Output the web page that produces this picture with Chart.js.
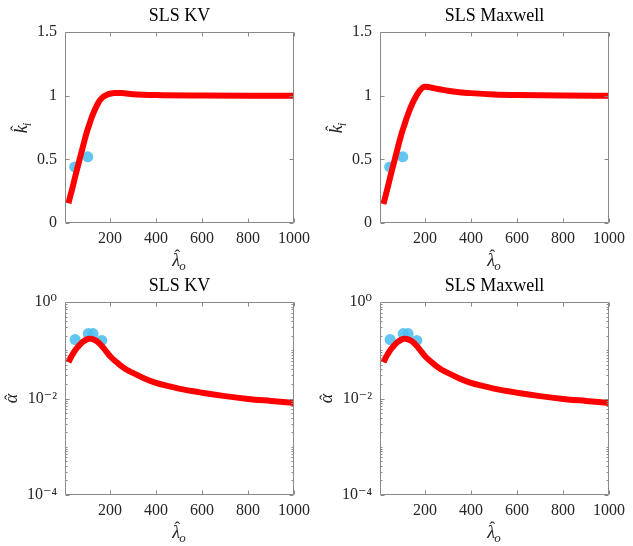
<!DOCTYPE html>
<html>
<head>
<meta charset="utf-8">
<script src="https://cdn.jsdelivr.net/npm/chart.js@4.4.0/dist/chart.umd.min.js"></script>
<style>
  body { margin: 0; background: #fff; }
  #wrap { position: relative; width: 633px; height: 546px; }
  canvas { position: absolute; }
</style>
</head>
<body>
<div id="wrap">
  <canvas id="kvK" width="316" height="270" style="left:0;top:0"></canvas>
  <canvas id="mxK" width="316" height="270" style="left:315px;top:0"></canvas>
  <canvas id="kvA" width="316" height="272" style="left:0;top:270px"></canvas>
  <canvas id="mxA" width="316" height="272" style="left:315px;top:270px"></canvas>
</div>
<script>
// tick values / labels
const lambdaTicks = [200, 400, 600, 800, 1000];
const kTicks = [0, 0.5, 1, 1.5];
const alphaTicks = [1e-4, 1e-2, 1];
const alphaTickLabels = ['10⁻⁴', '10⁻²', '10⁰'];

// red model curves
const lamKV_k = [20, 30, 40, 50, 60, 70, 80, 90, 100, 110, 120, 130, 140, 150, 160, 170, 180, 190, 200, 220, 250, 300, 400, 600, 800, 1000];
const kKV = [0.155, 0.225, 0.295, 0.37, 0.44, 0.51, 0.58, 0.65, 0.715, 0.77, 0.825, 0.87, 0.91, 0.945, 0.97, 0.99, 1.0, 1.01, 1.015, 1.02, 1.02, 1.012, 1.005, 1.001, 1.0, 1.0];

const lamMX_k = [20, 30, 40, 50, 60, 70, 80, 90, 100, 110, 120, 130, 140, 150, 160, 170, 180, 190, 200, 215, 230, 250, 270, 300, 350, 400, 500, 600, 800, 1000];
const kMX = [0.15, 0.22, 0.29, 0.365, 0.435, 0.505, 0.575, 0.645, 0.71, 0.765, 0.82, 0.87, 0.915, 0.955, 0.99, 1.02, 1.045, 1.063, 1.07, 1.068, 1.062, 1.055, 1.048, 1.038, 1.027, 1.02, 1.01, 1.005, 1.001, 1.0];

const lamAlpha = [20, 30, 40, 50, 60, 70, 80, 90, 100, 110, 120, 130, 140, 150, 160, 170, 180, 190, 200, 215, 230, 250, 275, 300, 350, 400, 450, 500, 600, 700, 800, 900, 1000];
const alphaKV = [0.0562, 0.0708, 0.0851, 0.1012, 0.1161, 0.1318, 0.1462, 0.1585, 0.1679, 0.1738, 0.1718, 0.166, 0.1585, 0.1445, 0.130, 0.115, 0.100, 0.087, 0.0759, 0.0646, 0.0562, 0.0468, 0.0389, 0.0339, 0.026, 0.0211, 0.0182, 0.016, 0.0132, 0.0112, 0.0098, 0.0089, 0.0081];
const alphaMX = [0.0562, 0.0708, 0.0851, 0.1012, 0.1161, 0.1318, 0.1462, 0.1585, 0.1679, 0.1738, 0.1718, 0.166, 0.1585, 0.1445, 0.130, 0.115, 0.100, 0.087, 0.0759, 0.0646, 0.0562, 0.0468, 0.0389, 0.0339, 0.026, 0.0211, 0.0182, 0.016, 0.0132, 0.0112, 0.0098, 0.0089, 0.0081];

// blue measured points
const lamMeasK = [47, 104];
const kMeas = [0.44, 0.52];
const lamMeasA = [49, 106, 127, 165];
const alphaMeas = [0.167, 0.222, 0.222, 0.16];

const SERIF = "'Liberation Serif', 'DejaVu Serif', serif";
Chart.defaults.font.family = SERIF;
Chart.defaults.color = '#262626';

// draws base glyph with a hat and optional subscript, centred on x
function mathLabel(ctx, base, sub, x, y, hatDy) {
  ctx.font = 'italic 18px ' + SERIF;
  const w1 = ctx.measureText(base).width;
  ctx.font = 'italic 13px ' + SERIF;
  const w2 = sub ? ctx.measureText(sub).width : 0;
  const x0 = x - (w1 + w2) / 2;
  ctx.textAlign = 'left';
  ctx.textBaseline = 'alphabetic';
  ctx.font = 'italic 18px ' + SERIF;
  ctx.fillText(base, x0, y);
  ctx.textAlign = 'center';
  ctx.font = '17px ' + SERIF;
  ctx.fillText('ˆ', x0 + w1 / 2 + 1, y + hatDy);
  if (sub) {
    ctx.textAlign = 'left';
    ctx.font = 'italic 13px ' + SERIF;
    ctx.fillText(sub, x0 + w1 - 1, y + 4);
  }
}

// matlab style box with inward ticks + axis labels
const axesBox = {
  id: 'axesBox',
  afterDraw(chart, args, o) {
    const {ctx, chartArea: a, scales: {x, y}} = chart;
    const L = Math.round(a.left) + 0.5, R = Math.round(a.right) - 0.5;
    const T = Math.round(a.top) + 0.5, B = Math.round(a.bottom) - 0.5;
    ctx.save();
    ctx.strokeStyle = '#8a8a8a';
    ctx.lineWidth = 1;
    ctx.beginPath();
    x.ticks.forEach(t => {
      const px = Math.round(x.getPixelForValue(t.value)) + 0.5;
      ctx.moveTo(px, B); ctx.lineTo(px, B - 4);
      ctx.moveTo(px, T); ctx.lineTo(px, T + 4);
    });
    y.ticks.forEach(t => {
      const py = Math.round(y.getPixelForValue(t.value)) + 0.5;
      ctx.moveTo(L, py); ctx.lineTo(L + 4, py);
      ctx.moveTo(R, py); ctx.lineTo(R - 4, py);
    });
    if (y.type === 'logarithmic') {
      for (let e = -4; e < 0; e++) {
        for (let m = 1; m < 10; m++) {
          const v = m * Math.pow(10, e);
          if (v <= 1e-4) continue;
          const py = Math.round(y.getPixelForValue(v)) + 0.5;
          ctx.moveTo(L, py); ctx.lineTo(L + 2, py);
          ctx.moveTo(R, py); ctx.lineTo(R - 2, py);
        }
      }
    }
    ctx.rect(L, T, R - L, B - T);
    ctx.stroke();

    ctx.fillStyle = '#262626';
    // x label
    mathLabel(ctx, 'λ', 'o', (a.left + a.right) / 2, a.bottom + 43, -5);
    // y label, rotated
    ctx.translate(o.yLabelX, (a.top + a.bottom) / 2);
    ctx.rotate(-Math.PI / 2);
    mathLabel(ctx, o.yBase, o.ySub, 0, 0, o.yHatDy);
    ctx.restore();
  }
};

function makeChart(id, title, lamCurve, curve, lamPts, pts, isLog) {
  const yScale = isLog ? {
    type: 'logarithmic', min: 1e-4, max: 1,
    afterBuildTicks: s => { s.ticks = alphaTicks.map(v => ({value: v})); },
    ticks: { callback: v => alphaTickLabels[alphaTicks.indexOf(v)], font: {size: 16, family: SERIF}, padding: 8 }
  } : {
    type: 'linear', min: 0, max: 1.5,
    afterBuildTicks: s => { s.ticks = kTicks.map(v => ({value: v})); },
    ticks: { callback: v => String(v), font: {size: 16, family: SERIF}, padding: 8 }
  };
  Object.assign(yScale, {
    grid: { display: false, drawTicks: false },
    border: { display: false },
    afterFit: s => { s.width = 65; }
  });
  return new Chart(document.getElementById(id), {
    type: 'scatter',
    data: {
      datasets: [
        {
          data: lamCurve.map((v, i) => ({x: v, y: curve[i]})),
          showLine: true,
          borderColor: '#ff0000',
          borderWidth: 6,
          pointRadius: 0,
          cubicInterpolationMode: 'monotone'
        },
        {
          data: lamPts.map((v, i) => ({x: v, y: pts[i]})),
          pointRadius: 5.5,
          pointBackgroundColor: 'rgba(77, 190, 238, 0.88)',
          pointBorderWidth: 0
        }
      ]
    },
    options: {
      responsive: false,
      animation: false,
      devicePixelRatio: 1,
      layout: { padding: {left: 0, right: 17, top: 0, bottom: 0} },
      plugins: {
        legend: { display: false },
        tooltip: { enabled: false },
        title: {
          display: true, text: title, fullSize: false,
          color: '#000', font: {size: 18, weight: 'normal', family: SERIF},
          padding: {top: 5, bottom: 5.4}
        },
        axesBox: isLog
          ? { yBase: 'α', ySub: '', yLabelX: 17, yHatDy: -1 }
          : { yBase: 'k', ySub: 'i', yLabelX: 27, yHatDy: -5 }
      },
      scales: {
        x: {
          type: 'linear', min: 5, max: 1000,
          afterBuildTicks: s => { s.ticks = lambdaTicks.map(v => ({value: v})); },
          ticks: { callback: v => String(v), font: {size: 16, family: SERIF}, padding: 6, maxRotation: 0 },
          grid: { display: false, drawTicks: false },
          border: { display: false },
          afterFit: s => { s.height = 47; }
        },
        y: yScale
      }
    },
    plugins: [axesBox]
  });
}

makeChart('kvK', 'SLS KV', lamKV_k, kKV, lamMeasK, kMeas, false);
makeChart('mxK', 'SLS Maxwell', lamMX_k, kMX, lamMeasK, kMeas, false);
makeChart('kvA', 'SLS KV', lamAlpha, alphaKV, lamMeasA, alphaMeas, true);
makeChart('mxA', 'SLS Maxwell', lamAlpha, alphaMX, lamMeasA, alphaMeas, true);
</script>
</body>
</html>
